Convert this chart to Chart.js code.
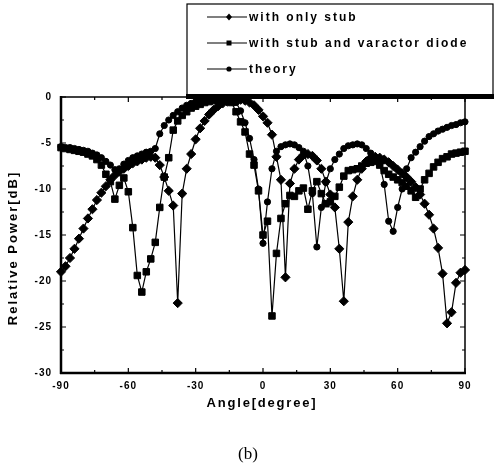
<!DOCTYPE html>
<html lang="en">
<head>
<meta charset="UTF-8">
<title>Relative Power vs Angle</title>
<script src="https://cdn.jsdelivr.net/npm/chart.js"></script>
<style>
  html, body { margin: 0; padding: 0; background: #fff; }
  #wrap { position: relative; width: 495px; height: 470px; }
</style>
</head>
<body>
<div id="wrap"><canvas id="c" width="495" height="470"></canvas></div>
<script>
// angle grid [degree]
const angles = [
  -90, -88, -86, -84, -82, -80, -78, -76, -74, -72, -70, -68, -66, -64, -62, -60,
  -58, -56, -54, -52, -50, -48, -46, -44, -42, -40, -38, -36, -34, -32, -30, -28,
  -26, -24, -22, -20, -18, -16, -14, -12, -10, -8, -6, -4, -2, 0, 2, 4,
  6, 8, 10, 12, 14, 16, 18, 20, 22, 24, 26, 28, 30, 32, 34, 36,
  38, 40, 42, 44, 46, 48, 50, 52, 54, 56, 58, 60, 62, 64, 66, 68,
  70, 72, 74, 76, 78, 80, 82, 84, 86, 88, 90
];

// with only stub (diamonds)
const onlyStub = [
  -19.0, -18.4, -17.5, -16.5, -15.4, -14.3, -13.2, -12.2, -11.2, -10.4, -9.7, -9.0, -8.5, -8.1, -7.8, -7.5,
  -7.2, -7.0, -6.8, -6.6, -6.5, -6.6, -7.4, -8.7, -10.2, -11.8, -22.4, -10.5, -7.8, -6.2, -4.6, -3.4,
  -2.6, -1.9, -1.4, -1.0, -0.7, -0.5, -0.4, -0.3, -0.3, -0.4, -0.6, -0.9, -1.4, -2.1, -2.8, -4.1,
  -6.5, -9.0, -19.6, -9.4, -7.8, -6.8, -6.3, -6.2, -6.4, -6.9, -7.8, -9.2, -10.6, -12.0, -16.5, -22.2,
  -13.6, -10.8, -9.0, -7.8, -7.0, -6.6, -6.5, -6.6, -6.8, -7.1, -7.5, -7.9, -8.3, -8.7, -9.2, -9.8,
  -10.6, -11.6, -12.8, -14.3, -16.4, -19.2, -24.6, -23.4, -20.2, -19.1, -18.8
];

// with stub and varactor diode (squares)
const stubVaractor = [
  -5.5, -5.6, -5.7, -5.8, -5.9, -6.0, -6.2, -6.4, -6.8, -7.4, -8.4, -9.2, -11.1, -9.6, -8.8, -10.3,
  -14.2, -19.4, -21.2, -19.0, -17.6, -15.8, -12.0, -8.7, -6.6, -3.6, -2.6, -2.0, -1.6, -1.2, -1.0, -0.8,
  -0.6, -0.5, -0.4, -0.4, -0.3, -0.4, -0.6, -1.6, -2.7, -3.8, -6.2, -7.4, -10.2, -15.0, -13.5, -23.8,
  -17.0, -13.2, -11.6, -10.7, -10.8, -10.2, -9.9, -12.2, -10.2, -9.2, -10.5, -11.6, -11.4, -10.8, -9.8, -8.6,
  -8.0, -7.9, -7.8, -7.5, -7.2, -7.1, -7.0, -7.4, -8.0, -8.4, -8.7, -9.0, -9.3, -9.7, -10.2, -10.9,
  -10.0, -9.0, -8.3, -7.6, -7.1, -6.7, -6.5, -6.2, -6.1, -6.0, -5.9
];

// theory (circles)
const theory = [
  -5.4, -5.5, -5.5, -5.6, -5.7, -5.8, -5.9, -6.1, -6.3, -6.6, -7.0, -7.4, -7.9, -7.8, -7.3, -6.9,
  -6.6, -6.4, -6.2, -6.0, -5.9, -5.6, -4.0, -3.1, -2.5, -2.0, -1.6, -1.2, -0.9, -0.7, -0.5, -0.3,
  -0.2, -0.1, 0.0, 0.0, -0.1, -0.2, -0.3, -0.6, -1.5, -2.8, -4.5, -6.8, -10.0, -15.9, -11.4, -7.8,
  -5.9, -5.4, -5.2, -5.1, -5.2, -5.5, -5.9, -7.5, -10.5, -16.3, -12.0, -9.3, -7.8, -6.8, -6.2, -5.6,
  -5.3, -5.2, -5.1, -5.2, -5.6, -6.1, -6.6, -7.3, -9.5, -13.5, -14.6, -12.0, -10.0, -7.8, -6.6, -6.0,
  -5.4, -4.8, -4.3, -4.0, -3.7, -3.5, -3.3, -3.1, -3.0, -2.8, -2.7
];

const seriesNames = ['with only stub', 'with stub and varactor diode', 'theory'];
const xTicks = [-90, -60, -30, 0, 30, 60, 90];
const yTicks = [0, -5, -10, -15, -20, -25, -30];

function pts(vals) {
    return angles.map((a, i) => ({ x: a, y: vals[i] }));
}

// frame, inward ticks, titles, legend box, caption
const decor = {
    id: 'decor',
    beforeDraw(chart) {
        chart.ctx.letterSpacing = '1px';
    },
    afterDraw(chart) {
        const ctx = chart.ctx;
        const a = chart.chartArea;
        const xs = chart.scales.x, ys = chart.scales.y;
        ctx.save();
        ctx.letterSpacing = '0px';
        ctx.strokeStyle = '#000';

        // frame
        ctx.lineWidth = 1.5;
        ctx.beginPath();
        ctx.moveTo(a.left, a.top); ctx.lineTo(a.right, a.top);
        ctx.moveTo(a.right, a.top); ctx.lineTo(a.right, a.bottom);
        ctx.stroke();
        ctx.lineWidth = 2.5;
        ctx.beginPath();
        ctx.moveTo(a.left, a.top - 1); ctx.lineTo(a.left, a.bottom + 1);
        ctx.moveTo(a.left - 1, a.bottom); ctx.lineTo(a.right + 1, a.bottom);
        ctx.stroke();

        // ticks pointing in
        ctx.lineWidth = 1.2;
        ctx.beginPath();
        for (let v = -90; v <= 90; v += 15) {
            const px = xs.getPixelForValue(v);
            const len = (v % 30 === 0) ? 5 : 3;
            ctx.moveTo(px, a.bottom); ctx.lineTo(px, a.bottom - len);
            ctx.moveTo(px, a.top); ctx.lineTo(px, a.top + len);
        }
        for (let v = 0; v >= -30; v -= 2.5) {
            const py = ys.getPixelForValue(v);
            const len = (v % 5 === 0) ? 5 : 3;
            ctx.moveTo(a.left, py); ctx.lineTo(a.left + len, py);
            ctx.moveTo(a.right, py); ctx.lineTo(a.right - len, py);
        }
        ctx.stroke();

        // axis titles
        ctx.fillStyle = '#000';
        ctx.font = 'bold 13px "Liberation Sans", Arial, sans-serif';
        ctx.textAlign = 'center';
        ctx.textBaseline = 'middle';
        ctx.letterSpacing = '1.8px';
        ctx.fillText('Angle[degree]', 262, 403);
        ctx.save();
        ctx.translate(13, 248);
        ctx.rotate(-Math.PI / 2);
        ctx.letterSpacing = '2px';
        ctx.fillText('Relative Power[dB]', 0, 0);
        ctx.restore();

        // caption
        ctx.letterSpacing = '0px';
        ctx.font = '17px "Liberation Serif", "Times New Roman", serif';
        ctx.fillText('(b)', 248, 455);

        // legend box
        const bx = 187, by = 4, bw = 306, bh = 91;
        ctx.fillStyle = '#fff';
        ctx.fillRect(bx, by, bw, bh);
        ctx.strokeStyle = '#000';
        ctx.lineWidth = 1.2;
        ctx.strokeRect(bx, by, bw, bh);
        ctx.fillStyle = '#000';
        ctx.fillRect(bx - 1, by + bh - 1, bw + 2, 5);

        const shapes = ['diamond', 'square', 'circle'];
        const rowsY = [17, 43, 69];
        ctx.font = 'bold 12px "Liberation Sans", Arial, sans-serif';
        ctx.textAlign = 'left';
        ctx.textBaseline = 'middle';
        ctx.letterSpacing = '2px';
        for (let i = 0; i < 3; i++) {
            const y = rowsY[i];
            ctx.lineWidth = 1.2;
            ctx.beginPath();
            ctx.moveTo(207, y); ctx.lineTo(247, y);
            ctx.stroke();
            const mx = 229;
            ctx.beginPath();
            if (shapes[i] === 'diamond') {
                ctx.moveTo(mx, y - 3.5); ctx.lineTo(mx + 3, y); ctx.lineTo(mx, y + 3.5); ctx.lineTo(mx - 3, y);
                ctx.closePath();
            } else if (shapes[i] === 'square') {
                ctx.rect(mx - 2.5, y - 2.5, 5, 5);
            } else {
                ctx.arc(mx, y, 2.6, 0, Math.PI * 2);
            }
            ctx.fill();
            ctx.fillText(seriesNames[i], 249, y + 0.5);
        }
        ctx.restore();
    }
};

const common = {
    borderColor: '#000',
    backgroundColor: '#000',
    pointBackgroundColor: '#000',
    pointBorderColor: '#000',
    pointBorderWidth: 1,
    borderWidth: 1.2,
    showLine: true,
    tension: 0,
    clip: 8
};

new Chart(document.getElementById('c'), {
    type: 'scatter',
    data: {
        datasets: [
            Object.assign({ label: seriesNames[0], data: pts(onlyStub), pointStyle: 'rectRot', pointRadius: 4.6 }, common),
            Object.assign({ label: seriesNames[1], data: pts(stubVaractor), pointStyle: 'rect', pointRadius: 4.6 }, common),
            Object.assign({ label: seriesNames[2], data: pts(theory), pointStyle: 'circle', pointRadius: 3.1 }, common)
        ]
    },
    options: {
        responsive: false,
        devicePixelRatio: 1,
        animation: false,
        layout: { padding: { top: 97, right: 30, left: 0, bottom: 0 } },
        plugins: {
            legend: { display: false },
            tooltip: { enabled: false }
        },
        scales: {
            x: {
                type: 'linear',
                min: -90,
                max: 90,
                afterBuildTicks: s => { s.ticks = xTicks.map(v => ({ value: v })); },
                afterFit: s => { s.height = 97; },
                grid: { display: false, drawTicks: false },
                border: { display: false },
                ticks: {
                    color: '#000',
                    padding: 7,
                    maxRotation: 0,
                    font: { family: '"Liberation Sans", Arial, sans-serif', size: 10, weight: 'bold' }
                }
            },
            y: {
                min: -30,
                max: 0,
                afterBuildTicks: s => { s.ticks = yTicks.map(v => ({ value: v })); },
                afterFit: s => { s.width = 61; },
                grid: { display: false, drawTicks: false },
                border: { display: false },
                ticks: {
                    color: '#000',
                    padding: 9,
                    font: { family: '"Liberation Sans", Arial, sans-serif', size: 10, weight: 'bold' }
                }
            }
        }
    },
    plugins: [decor]
});
</script>
</body>
</html>
